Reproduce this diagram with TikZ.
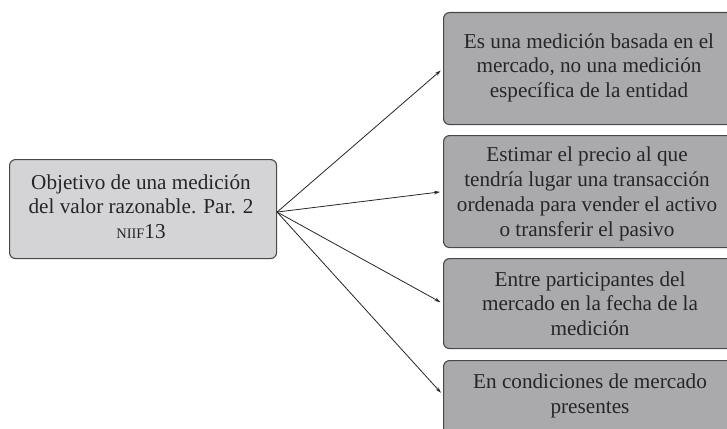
\documentclass[tikz,border=0pt]{standalone}
\usepackage{fontspec}
\setmainfont{Liberation Serif}
\usetikzlibrary{arrows.meta,calc}

\definecolor{edgegray}{RGB}{72,72,74}
\definecolor{mainfill}{RGB}{212,212,214}
\definecolor{itemfill}{RGB}{170,170,173}
\definecolor{inkgray}{RGB}{38,38,40}

\tikzset{
  basebox/.style={draw=edgegray, line width=1.1pt, rounded corners=6pt,
    inner sep=0pt, anchor=north west},
  mainbox/.style={basebox, fill=mainfill},
  itembox/.style={basebox, fill=itemfill},
  % anchored at the baseline of the last line
  boxtext/.style={align=center, inner sep=0pt, anchor=base, text=inkgray,
    font=\fontsize{21.2}{24.7}\selectfont},
  link/.style={draw=inkgray, line width=0.8pt,
    -{Stealth[length=6pt,width=3.6pt]}, shorten >=3pt},
}

\begin{document}
\begin{tikzpicture}[x=1pt, y=-1pt]
  \useasboundingbox (0,0) rectangle (727,428);

  % central box
  \node[mainbox, minimum width=267pt, minimum height=99pt] (obj) at (9,159) {};
  \node[boxtext] (objtxt) at (141,238.5)
    {Objetivo de una medición\\del valor razonable. Par. 2\\{\fontsize{14.5}{14.5}\selectfont NIIF}13};

  % boxes on the right (running past the page edge)
  \node[itembox, minimum width=302pt, minimum height=112pt] (r1) at (443,12) {};
  \node[itembox, minimum width=302pt, minimum height=112pt] (r2) at (443,135) {};
  \node[itembox, minimum width=302pt, minimum height=90pt]  (r3) at (443,258) {};
  \node[itembox, minimum width=302pt, minimum height=90pt]  (r4) at (443,360) {};
  \coordinate (r4in) at ($(r4.north west)+(0,35)$);

  \node[boxtext] (t1) at (589,97.5)
    {Es una medición basada en el\\mercado, no una medición\\específica de la entidad};
  \node[boxtext] (t2) at (587,236)
    {Estimar el precio al que\\tendría lugar una transacción\\ordenada para vender el activo\\o transferir el pasivo};
  \node[boxtext] (t3) at (590,335.5)
    {Entre participantes del\\mercado en la fecha de la\\medición};
  \node[boxtext] (t4) at (590,413)
    {En condiciones de mercado\\presentes};

  % connectors fanning out from one point
  \coordinate (hub) at ($(obj.east)+(0,3)$);
  \foreach \target in {r1.west,r2.west,r3.west,r4in}
    \draw[link] (hub) -- (\target);
\end{tikzpicture}
\end{document}
